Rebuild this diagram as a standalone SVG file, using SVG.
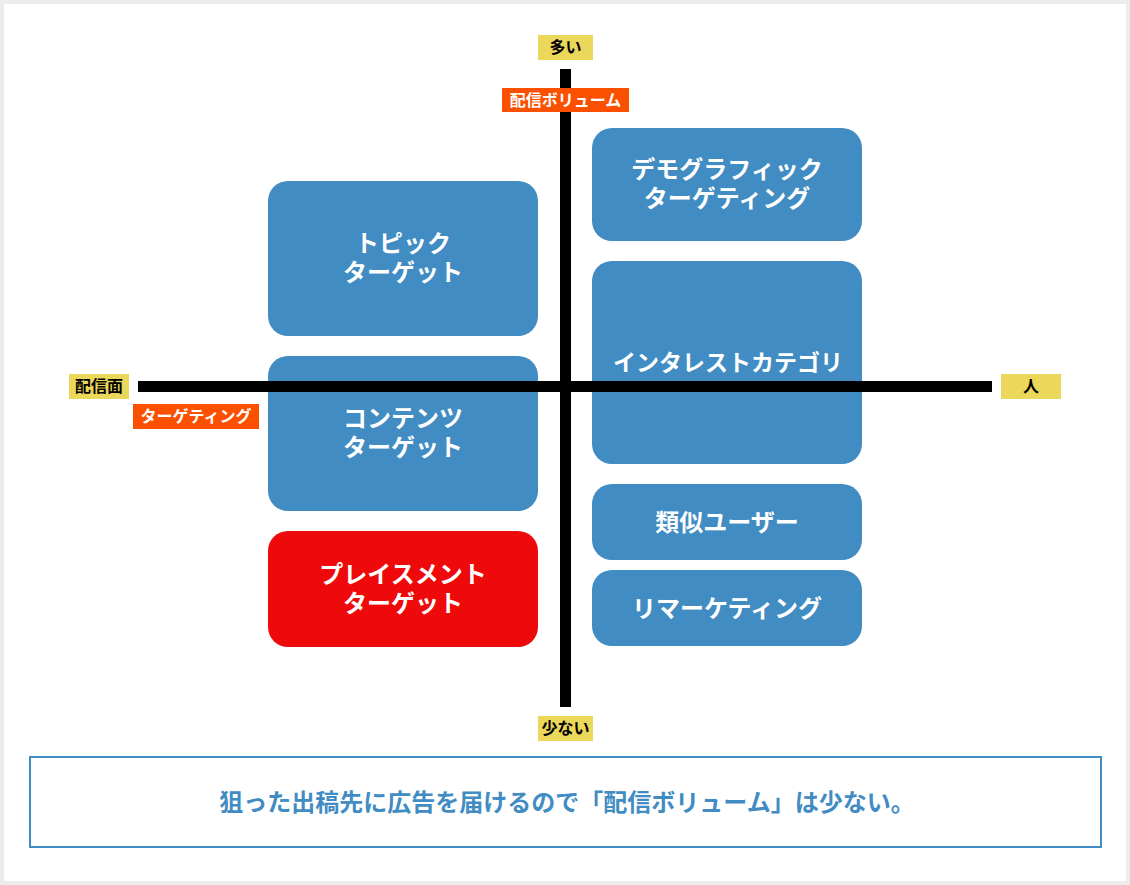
<svg xmlns="http://www.w3.org/2000/svg" width="1130" height="885" viewBox="0 0 1130 885">
<style>
.node{fill:#418cc2}
.red{fill:#ee0a0a}
.nt{font-family:"Noto Sans CJK JP","Noto Sans",sans-serif;font-weight:bold;font-size:24px;fill:#fff;text-anchor:middle}
.yl{fill:#ebd75a}
.og{fill:#fa5000}
.lt{font-family:"Noto Sans CJK JP","Noto Sans",sans-serif;font-weight:bold;font-size:16px;text-anchor:middle}
.ax{fill:#000}
</style>
<rect x="0" y="0" width="1130" height="885" fill="#ececec"/>
<rect x="4" y="4" width="1122" height="877" fill="#fff"/>
<g id="topic"><rect class="node" x="268" y="181" width="270" height="155" rx="20"/><text class="nt" x="403" y="252">トピック</text><text class="nt" x="403" y="281">ターゲット</text></g>
<g id="contents"><rect class="node" x="268" y="356" width="270" height="155" rx="20"/><text class="nt" x="403" y="427">コンテンツ</text><text class="nt" x="403" y="456">ターゲット</text></g>
<g id="placement"><rect class="red" x="268" y="531" width="270" height="116" rx="20"/><text class="nt" x="403" y="583">プレイスメント</text><text class="nt" x="403" y="612">ターゲット</text></g>
<g id="demographic"><rect class="node" x="592" y="128" width="270" height="113" rx="20"/><text class="nt" x="727" y="178">デモグラフィック</text><text class="nt" x="727" y="207">ターゲティング</text></g>
<g id="interest"><rect class="node" x="592" y="261" width="270" height="203" rx="20"/><text class="nt" x="728" y="371" style="font-size:23px">インタレストカテゴリ</text></g>
<g id="similar"><rect class="node" x="592" y="484" width="270" height="76" rx="20"/><text class="nt" x="727" y="531">類似ユーザー</text></g>
<g id="remarketing"><rect class="node" x="592" y="570" width="270" height="76" rx="20"/><text class="nt" x="727" y="617">リマーケティング</text></g>
<g id="connectors">
<rect class="ax" x="560" y="69" width="11" height="638"/>
<rect class="ax" x="138" y="381" width="854" height="11"/>
</g>
<g id="label-top"><rect class="yl" x="538" y="35" width="55" height="25"/><text class="lt" x="565.5" y="53" fill="#000">多い</text></g>
<g id="label-volume"><rect class="og" x="502" y="88" width="127" height="24"/><text class="lt" x="565.5" y="105.5" fill="#fff">配信ボリューム</text></g>
<g id="label-left"><rect class="yl" x="69" y="374" width="60" height="25"/><text class="lt" x="99" y="392" fill="#000">配信面</text></g>
<g id="label-targeting"><rect class="og" x="133" y="404" width="126" height="25"/><text class="lt" x="196" y="422" fill="#fff">ターゲティング</text></g>
<g id="label-right"><rect class="yl" x="1001" y="374" width="60" height="25"/><text class="lt" x="1031" y="392" fill="#000">人</text></g>
<g id="label-bottom"><rect class="yl" x="538" y="716" width="55" height="25"/><text class="lt" x="565.5" y="734" fill="#000">少ない</text></g>
<g id="note"><rect x="30" y="757" width="1071" height="90" fill="#fff" stroke="#418cc2" stroke-width="2"/><text x="567" y="811" font-family="'Noto Sans CJK JP','Noto Sans',sans-serif" font-weight="bold" font-size="24" fill="#418cc2" text-anchor="middle">狙った出稿先に広告を届けるので「配信ボリューム」は少ない。</text></g>
</svg>
